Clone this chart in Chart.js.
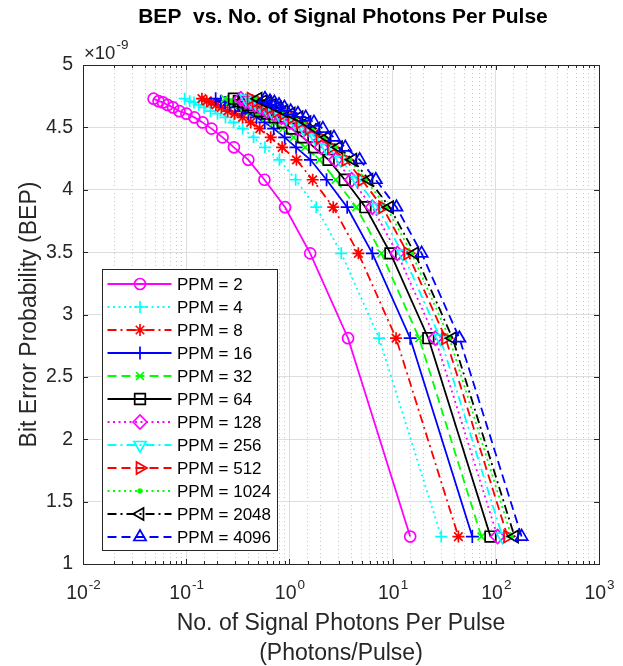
<!DOCTYPE html>
<html>
<head>
<meta charset="utf-8">
<title>BEP vs. No. of Signal Photons Per Pulse</title>
<script src="https://cdn.jsdelivr.net/npm/chart.js@4.4.1/dist/chart.umd.min.js"></script>
<style>
  html, body { margin: 0; padding: 0; background: #fff; }
  #wrap { width: 623px; height: 666px; }
</style>
</head>
<body>
<div id="wrap"><canvas id="bepChart" width="623" height="666"></canvas></div>
<script>
// BEP levels (x 1e-9), the same set is used by every PPM curve
const bepE9 = [4.73, 4.71, 4.70, 4.68, 4.66, 4.63, 4.61, 4.58, 4.54, 4.49, 4.42, 4.34, 4.24, 4.08, 3.86, 3.49, 2.81, 1.22];

// signal photons per pulse for each PPM order
const ppm2    = [0.0483, 0.0540, 0.0596, 0.0661, 0.0746, 0.0859, 0.1005, 0.120, 0.144, 0.176, 0.225, 0.290, 0.400, 0.573, 0.908, 1.59, 3.70, 14.8];
const ppm4    = [0.0966, 0.108, 0.119, 0.132, 0.149, 0.172, 0.201, 0.240, 0.288, 0.352, 0.450, 0.580, 0.800, 1.15, 1.82, 3.18, 7.40, 29.6];
const ppm8    = [0.142, 0.158, 0.175, 0.194, 0.219, 0.252, 0.295, 0.352, 0.422, 0.516, 0.659, 0.850, 1.17, 1.68, 2.66, 4.66, 10.8, 43.4];
const ppm16   = [0.193, 0.216, 0.238, 0.264, 0.298, 0.344, 0.402, 0.480, 0.576, 0.704, 0.900, 1.16, 1.60, 2.29, 3.63, 6.36, 14.8, 59.2];
const ppm32   = [0.237, 0.265, 0.292, 0.324, 0.366, 0.421, 0.493, 0.588, 0.706, 0.862, 1.10, 1.42, 1.96, 2.81, 4.45, 7.79, 18.1, 72.5];
const ppm64   = [0.290, 0.324, 0.358, 0.397, 0.448, 0.515, 0.603, 0.720, 0.864, 1.06, 1.35, 1.74, 2.40, 3.44, 5.45, 9.54, 22.2, 88.8];
const ppm128  = [0.338, 0.378, 0.417, 0.463, 0.522, 0.601, 0.704, 0.840, 1.01, 1.23, 1.58, 2.03, 2.80, 4.01, 6.36, 11.1, 25.9, 104];
const ppm256  = [0.379, 0.424, 0.468, 0.519, 0.586, 0.674, 0.789, 0.942, 1.13, 1.38, 1.77, 2.28, 3.14, 4.50, 7.13, 12.5, 29.0, 116];
const ppm512  = [0.425, 0.475, 0.525, 0.582, 0.657, 0.756, 0.884, 1.06, 1.27, 1.55, 1.98, 2.55, 3.52, 5.04, 7.99, 14.0, 32.6, 130];
const ppm1024 = [0.464, 0.518, 0.572, 0.635, 0.716, 0.825, 0.965, 1.15, 1.38, 1.69, 2.16, 2.78, 3.84, 5.50, 8.72, 15.3, 35.5, 142];
const ppm2048 = [0.498, 0.556, 0.614, 0.681, 0.768, 0.885, 1.04, 1.24, 1.48, 1.81, 2.32, 2.99, 4.12, 5.90, 9.35, 16.4, 38.1, 152];
const ppm4096 = [0.580, 0.648, 0.715, 0.793, 0.895, 1.03, 1.21, 1.44, 1.73, 2.11, 2.70, 3.48, 4.80, 6.88, 10.9, 19.1, 44.4, 178];

const seriesNames = ['PPM = 2', 'PPM = 4', 'PPM = 8', 'PPM = 16', 'PPM = 32', 'PPM = 64',
                     'PPM = 128', 'PPM = 256', 'PPM = 512', 'PPM = 1024', 'PPM = 2048', 'PPM = 4096'];
const seriesX = [ppm2, ppm4, ppm8, ppm16, ppm32, ppm64, ppm128, ppm256, ppm512, ppm1024, ppm2048, ppm4096];

const xTickPowers = [-2, -1, 0, 1, 2, 3];
const yTickStep = 0.5;

// line styles, MATLAB-ish: '-' ':' '-.' '--'
const SOLID = [], DOT = [2, 3.5], DASHDOT = [9, 4, 2, 4], DASH = [9, 5];
const styles = [
  { color: '#ff00ff', dash: SOLID,   marker: 'circle',   r: 5.5 },
  { color: '#00ffff', dash: DOT,     marker: 'cross',    r: 6 },
  { color: '#ff0000', dash: DASHDOT, marker: 'star',     r: 6 },
  { color: '#0000ff', dash: SOLID,   marker: 'cross',    r: 6.5 },
  { color: '#00ff00', dash: DASH,    marker: 'crossRot', r: 5.5 },
  { color: '#000000', dash: SOLID,   marker: 'rect',     r: 7.5 },
  { color: '#ff00ff', dash: DOT,     marker: 'rectRot',  r: 7 },
  { color: '#00ffff', dash: DASHDOT, marker: 'triangle', r: 7, rot: 180 },
  { color: '#ff0000', dash: DASH,    marker: 'triangle', r: 7, rot: 90 },
  { color: '#00ff00', dash: DOT,     marker: 'circle',   r: 1.8, filled: true },
  { color: '#000000', dash: DASHDOT, marker: 'triangle', r: 7, rot: 270 },
  { color: '#0000ff', dash: DASH,    marker: 'triangle', r: 7 }
];

const FONT = '"Liberation Sans", Arial, Helvetica, sans-serif';
const TEXT_COLOR = '#262626';
const MAJOR_GRID = '#dedede';
const MINOR_GRID = '#c4c4c4';

function isDecade(v) {
  const l = Math.log10(v);
  return Math.abs(l - Math.round(l)) < 1e-6;
}

const datasets = seriesX.map((xs, i) => {
  const s = styles[i];
  return {
    label: seriesNames[i],
    data: xs.map((x, k) => ({ x: x, y: bepE9[k] })),
    borderColor: s.color,
    borderWidth: 1.8,
    borderDash: s.dash,
    pointStyle: s.marker,
    pointRadius: s.r,
    pointRotation: s.rot || 0,
    pointBorderColor: s.color,
    pointBorderWidth: 1.7,
    pointBackgroundColor: s.filled ? s.color : 'rgba(0,0,0,0)',
    fill: false,
    tension: 0,
    order: seriesX.length - i   // later series on top, like MATLAB
  };
});

function drawSup(ctx, base, exp, cx, cy, baseSize, expSize, align) {
  ctx.font = baseSize + 'px ' + FONT;
  const wb = ctx.measureText(base).width;
  ctx.font = expSize + 'px ' + FONT;
  const we = ctx.measureText(exp).width;
  let x0 = align === 'left' ? cx : cx - (wb + we) / 2;
  ctx.textBaseline = 'middle';
  ctx.textAlign = 'left';
  ctx.font = baseSize + 'px ' + FONT;
  ctx.fillText(base, x0, cy);
  ctx.font = expSize + 'px ' + FONT;
  ctx.fillText(exp, x0 + wb + 1, cy - baseSize * 0.45);
}

function drawLegend(chart) {
  const ctx = chart.ctx;
  const area = chart.chartArea;
  const bw = 175, bh = 281;
  const bx = area.left + 18.5, by = area.bottom - 14 - bh;
  const rowH = 23;

  ctx.save();
  ctx.fillStyle = '#fff';
  ctx.fillRect(bx, by, bw, bh);
  ctx.strokeStyle = TEXT_COLOR;
  ctx.lineWidth = 1;
  ctx.strokeRect(Math.round(bx) + 0.5, Math.round(by) + 0.5, bw, bh);

  datasets.forEach((ds, i) => {
    const s = styles[i];
    const y = by + 15 + i * rowH;
    ctx.strokeStyle = s.color;
    ctx.lineWidth = 1.8;
    ctx.setLineDash(s.dash);
    ctx.beginPath();
    ctx.moveTo(bx + 6, y);
    ctx.lineTo(bx + 70, y);
    ctx.stroke();
    ctx.setLineDash([]);

    ctx.fillStyle = s.filled ? s.color : 'rgba(0,0,0,0)';
    ctx.lineWidth = 1.7;
    Chart.helpers.drawPoint(ctx, {
      pointStyle: s.marker, radius: s.r, rotation: s.rot || 0, borderWidth: 1.7
    }, bx + 38.5, y);

    ctx.fillStyle = '#000';
    ctx.font = '17px ' + FONT;
    ctx.textAlign = 'left';
    ctx.textBaseline = 'middle';
    ctx.fillText(ds.label, bx + 75.5, y + 1);
  });
  ctx.restore();
}

const matlabDecor = {
  id: 'matlabDecor',
  afterDraw(chart) {
    const ctx = chart.ctx;
    const area = chart.chartArea;
    const xs = chart.scales.x, ys = chart.scales.y;
    ctx.save();

    // inward ticks on all four sides
    ctx.strokeStyle = TEXT_COLOR;
    ctx.lineWidth = 1;
    ctx.beginPath();
    xs.ticks.forEach(t => {
      const px = Math.round(xs.getPixelForValue(t.value)) + 0.5;
      const len = isDecade(t.value) ? 5 : 3;
      ctx.moveTo(px, area.bottom); ctx.lineTo(px, area.bottom - len);
      ctx.moveTo(px, area.top); ctx.lineTo(px, area.top + len);
    });
    ys.ticks.forEach(t => {
      const py = Math.round(ys.getPixelForValue(t.value)) + 0.5;
      ctx.moveTo(area.left, py); ctx.lineTo(area.left + 5, py);
      ctx.moveTo(area.right, py); ctx.lineTo(area.right - 5, py);
    });
    ctx.stroke();

    // box
    ctx.strokeRect(Math.round(area.left) + 0.5, Math.round(area.top) + 0.5,
                   Math.round(area.right - area.left), Math.round(area.bottom - area.top));

    // x tick labels 10^n
    ctx.fillStyle = TEXT_COLOR;
    xTickPowers.forEach(p => {
      const px = xs.getPixelForValue(Math.pow(10, p));
      drawSup(ctx, '10', String(p), px, area.bottom + 30, 19.5, 13.5, 'center');
    });

    // exponent multiplier on y axis
    drawSup(ctx, '\u00d710', '-9', area.left + 1, area.top - 11, 18.5, 13.5, 'left');

    // axis labels
    ctx.textAlign = 'center';
    ctx.textBaseline = 'middle';
    ctx.font = '23px ' + FONT;
    const cx = (area.left + area.right) / 2;
    ctx.fillText('No. of Signal Photons Per Pulse', cx, area.bottom + 60);
    ctx.fillText('(Photons/Pulse)', cx, area.bottom + 90);

    ctx.save();
    ctx.translate(30, (area.top + area.bottom) / 2);
    ctx.rotate(-Math.PI / 2);
    ctx.fillText('Bit Error Probability (BEP)', 0, 0);
    ctx.restore();

    // title
    ctx.fillStyle = '#000';
    ctx.font = 'bold 21px ' + FONT;
    ctx.fillText('BEP  vs. No. of Signal Photons Per Pulse', cx + 2, 17);

    ctx.restore();
    drawLegend(chart);
  }
};

new Chart(document.getElementById('bepChart'), {
  type: 'line',
  data: { datasets: datasets },
  plugins: [matlabDecor],
  options: {
    responsive: false,
    animation: false,
    devicePixelRatio: 1,
    layout: { padding: { top: 65, right: 24, bottom: 0, left: 0 } },
    plugins: {
      legend: { display: false },
      title: { display: false },
      tooltip: { enabled: false }
    },
    scales: {
      x: {
        type: 'logarithmic',
        min: 0.01,
        max: 1000,
        afterFit(scale) { scale.height = 102; },
        ticks: { display: false },
        grid: {
          drawTicks: false,
          lineWidth: 1,
          color: ctx => (ctx.tick && isDecade(ctx.tick.value)) ? MAJOR_GRID : MINOR_GRID
        },
        border: {
          color: TEXT_COLOR,
          width: 1,
          dash: ctx => (ctx.tick && !isDecade(ctx.tick.value)) ? [1, 3] : []
        }
      },
      y: {
        type: 'linear',
        min: 1,
        max: 5,
        afterFit(scale) { scale.width = 83; },
        ticks: {
          stepSize: yTickStep,
          padding: 10,
          color: TEXT_COLOR,
          font: { family: FONT, size: 19.5 },
          callback: v => String(Math.round(v * 10) / 10)
        },
        grid: { drawTicks: false, color: MAJOR_GRID, lineWidth: 1 },
        border: { color: TEXT_COLOR, width: 1 }
      }
    }
  }
});
</script>
</body>
</html>
